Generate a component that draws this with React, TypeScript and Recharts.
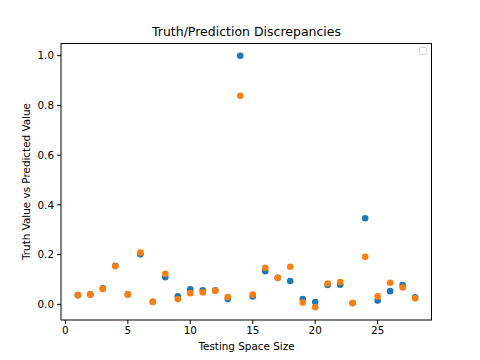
import { ScatterChart, Scatter, XAxis, YAxis } from 'recharts'

const BLUE = '#1f77b4'
const ORANGE = '#ff7f0e'
const FONT = '"DejaVu Sans", sans-serif'

const sizes = [1, 2, 3, 4, 5, 6, 7, 8, 9, 10, 11, 12, 13, 14, 15, 16, 17, 18, 19, 20, 21, 22, 23, 24, 25, 26, 27, 28]
const truthValues = [
  0.037, 0.04, 0.064, 0.155, 0.04, 0.201, 0.01, 0.109, 0.032, 0.06, 0.056, 0.056, 0.021, 1.0,
  0.032, 0.133, 0.107, 0.094, 0.021, 0.009, 0.078, 0.079, 0.005, 0.346, 0.015, 0.053, 0.078, 0.028,
]
const predictedValues = [
  0.037, 0.04, 0.062, 0.153, 0.04, 0.208, 0.01, 0.123, 0.021, 0.045, 0.048, 0.055, 0.029, 0.839,
  0.039, 0.147, 0.107, 0.151, 0.007, -0.012, 0.084, 0.09, 0.005, 0.191, 0.032, 0.087, 0.068, 0.024,
]
const xTicks = [0, 5, 10, 15, 20, 25]
const yTicks = [0, 0.2, 0.4, 0.6, 0.8, 1.0]

const truthData = sizes.map((x, i) => ({ x, y: truthValues[i] }))
const predictedData = sizes.map((x, i) => ({ x, y: predictedValues[i] }))

const tick = { fontSize: 10.4, fill: '#000', fontFamily: FONT }

function dot(color: string) {
  return (props: any) => <circle cx={props.cx} cy={props.cy} r={3.3} fill={color} />
}

export default function App() {
  return (
    <div style={{ position: 'absolute', left: 0, top: 0, width: 480, height: 360, background: '#fff' }}>
      <div
        style={{
          position: 'absolute',
          left: 61,
          width: 371,
          top: 24,
          textAlign: 'center',
          fontFamily: FONT,
          fontSize: 12.5,
          color: '#000',
        }}
      >
        Truth/Prediction Discrepancies
      </div>
      <div
        style={{
          position: 'absolute',
          left: 419,
          top: 47,
          width: 8,
          height: 8,
          border: '1px solid #d6d6d6',
          borderRadius: 2,
          boxSizing: 'border-box',
        }}
      />
      {/* top and right spines */}
      <div
        style={{
          position: 'absolute',
          left: 61,
          top: 43,
          width: 371,
          height: 277,
          borderTop: '1px solid #000',
          borderRight: '1px solid #000',
          boxSizing: 'border-box',
          pointerEvents: 'none',
        }}
      />
      <ScatterChart width={480} height={360} margin={{ top: 43, right: 48, bottom: 0, left: 0 }}>
        <XAxis
          type="number"
          dataKey="x"
          domain={[-0.35, 29.35]}
          ticks={xTicks}
          allowDataOverflow
          height={40}
          tickSize={4}
          tickMargin={3}
          tick={tick}
          stroke="#000"
          label={{
            content: ({ viewBox }: any) => (
              <text
                x={viewBox.x + viewBox.width / 2}
                y={viewBox.y + 26}
                textAnchor="middle"
                dominantBaseline="central"
                fontSize={10.4}
                fontFamily={FONT}
                fill="#000"
              >
                Testing Space Size
              </text>
            ),
          }}
        />
        <YAxis
          type="number"
          dataKey="y"
          domain={[-0.063, 1.051]}
          ticks={yTicks}
          allowDataOverflow
          width={61}
          tickSize={4}
          tickMargin={3}
          tick={tick}
          tickFormatter={(v: number) => v.toFixed(1)}
          stroke="#000"
          label={{
            content: ({ viewBox }: any) => {
              const cx = viewBox.x + 26
              const cy = viewBox.y + viewBox.height / 2
              return (
                <text
                  x={cx}
                  y={cy}
                  transform={`rotate(-90, ${cx}, ${cy})`}
                  textAnchor="middle"
                  dominantBaseline="central"
                  fontSize={10.4}
                  fontFamily={FONT}
                  fill="#000"
                >
                  Truth Value vs Predicted Value
                </text>
              )
            },
          }}
        />
        <Scatter name="truth" data={truthData} shape={dot(BLUE)} isAnimationActive={false} />
        <Scatter name="predicted" data={predictedData} shape={dot(ORANGE)} isAnimationActive={false} />
      </ScatterChart>
    </div>
  )
}
